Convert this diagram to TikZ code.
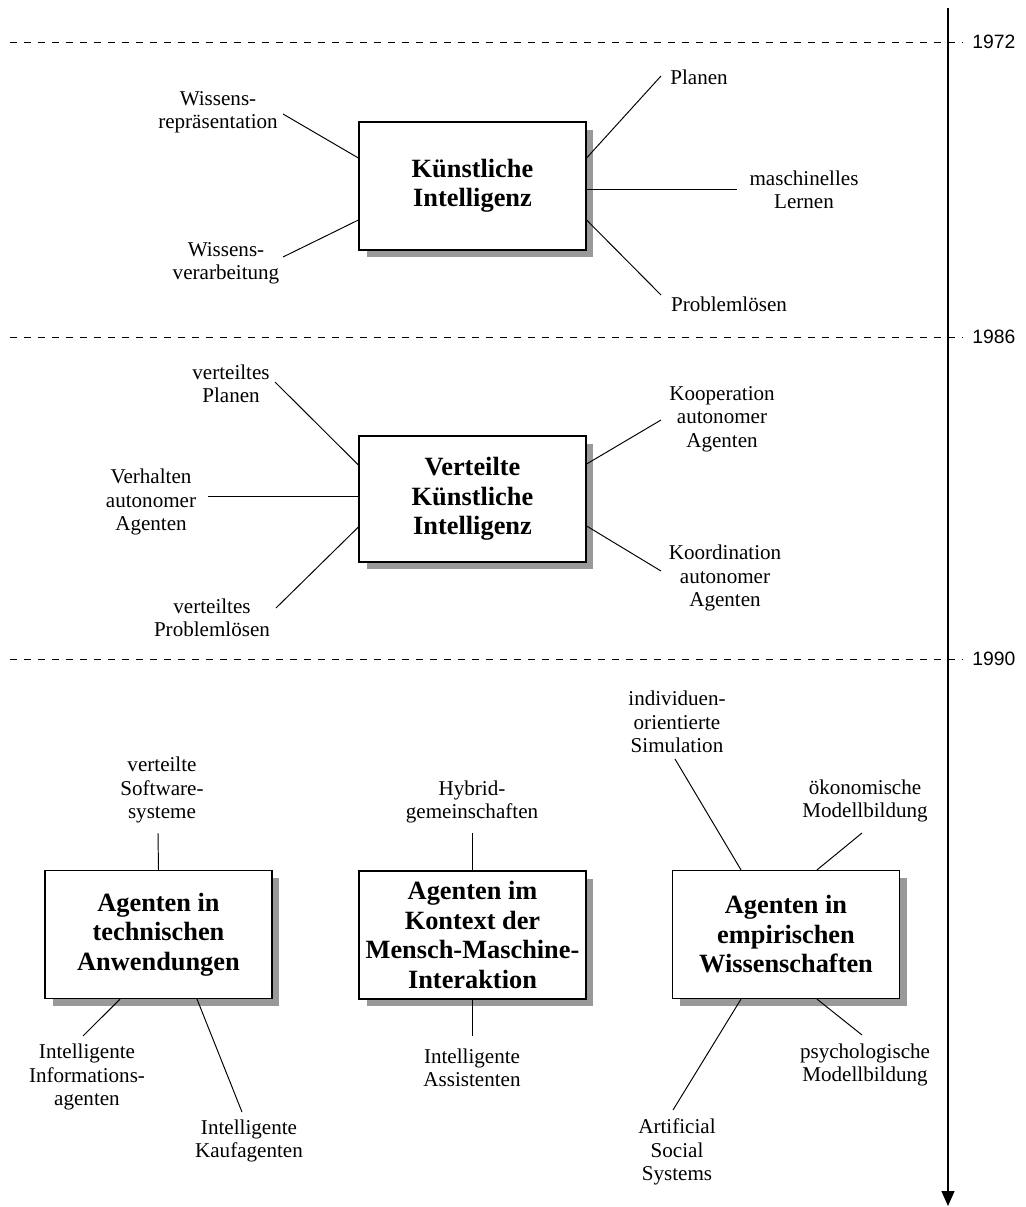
\documentclass[tikz,border=0pt]{standalone}
\usepackage{fontspec}
\setmainfont{Liberation Serif}
\newfontfamily\yearfont{Liberation Sans}
\usetikzlibrary{arrows.meta,shadows,calc}
\definecolor{shadowgray}{RGB}{153,153,153}
\begin{document}
\begin{tikzpicture}[x=0.02cm,y=-0.02cm,
  topic/.style={draw=black, line width=0.7pt, fill=white,
    minimum width=4.54cm, minimum height=2.56cm, inner sep=2pt, align=center,
    font=\fontsize{15}{16.8}\selectfont\bfseries,
    drop shadow={shadow xshift=0.15cm, shadow yshift=-0.15cm, fill=shadowgray, opacity=1}},
  lbl/.style={align=center, inner sep=0pt, font=\fontsize{12}{13.3}\selectfont},
  yearlbl/.style={anchor=west, inner sep=0pt, font=\yearfont\fontsize{11}{13}\selectfont},
  conn/.style={line width=0.55pt},
  era/.style={dash pattern=on 0.15cm off 0.13cm, line width=0.55pt},
  timeline/.style={line width=0.75pt, -{Triangle[width=0.26cm,length=0.3cm]}}]

\useasboundingbox (0,0) rectangle (1026,1207);

% time axis and era separators
\coordinate (tl-top) at (948,8);
\coordinate (tl-bot) at (948,1206);
\draw[era] (10,42) -- (962,42);
\draw[era] (10,337) -- (962,337);
\draw[era] (10,659) -- (962,659);
\draw[timeline] (tl-top) -- (tl-bot);
\node[yearlbl] (y1972) at (972,42) {1972};
\node[yearlbl] (y1986) at (972,337) {1986};
\node[yearlbl] (y1990) at (972,659) {1990};

% topic boxes
\node[topic] (ki) at (472.5,186) {Künstliche\\Intelligenz};
\node[topic, minimum height=2.52cm] (vki) at (472.5,499) {Verteilte\\Künstliche\\Intelligenz};
\node[topic] (tech) at (158.5,934.5) {Agenten in\\technischen\\Anwendungen};
\node[topic] (mmi) at (472.5,935) {Agenten im\\Kontext der\\Mensch-Maschine-\\Interaktion};
\node[topic] (emp) at (786,934.5) {Agenten in\\empirischen\\Wissenschaften};

% labels around "Kuenstliche Intelligenz"
\node[lbl] (wrep) at (218,112) {Wissens-\\repräsentation};
\node[lbl] (wver) at (226,263) {Wissens-\\verarbeitung};
\node[lbl] (plan) at (699,77) {Planen};
\node[lbl] (mlern) at (804,190) {maschinelles\\Lernen};
\node[lbl] (prob) at (729,304) {Problemlösen};
\coordinate (e-wrep) at (283,114);
\coordinate (e-wver) at (283,257);
\coordinate (e-plan) at (661,76);
\coordinate (e-mlern) at (737,189);
\coordinate (e-prob) at (661,295);
\draw[conn] ($(ki.west)+(0,-28)$) -- (e-wrep);
\draw[conn] ($(ki.west)+(0,34)$) -- (e-wver);
\draw[conn] ($(ki.east)+(0,-28)$) -- (e-plan);
\draw[conn] ($(ki.east)+(0,3)$) -- (e-mlern);
\draw[conn] ($(ki.east)+(0,34)$) -- (e-prob);

% labels around "Verteilte Kuenstliche Intelligenz"
\node[lbl] (vplan) at (231,384) {verteiltes\\Planen};
\node[lbl] (verh) at (151,502) {Verhalten\\autonomer\\Agenten};
\node[lbl] (vprob) at (212,618) {verteiltes\\Problemlösen};
\node[lbl] (koop) at (722,419) {Kooperation\\autonomer\\Agenten};
\node[lbl] (koord) at (725,578) {Koordination\\autonomer\\Agenten};
\coordinate (e-vplan) at (275,382);
\coordinate (e-verh) at (208,496);
\coordinate (e-vprob) at (276,608);
\coordinate (e-koop) at (661,420);
\coordinate (e-koord) at (661,571);
\draw[conn] ($(vki.west)+(0,-34)$) -- (e-vplan);
\draw[conn] ($(vki.west)+(0,-3)$) -- (e-verh);
\draw[conn] ($(vki.west)+(0,28)$) -- (e-vprob);
\draw[conn] ($(vki.east)+(0,-35)$) -- (e-koop);
\draw[conn] ($(vki.east)+(0,27)$) -- (e-koord);

% labels around "Agenten in technischen Anwendungen"
\node[lbl] (vsoft) at (162,790) {verteilte\\Software-\\systeme};
\node[lbl] (iinfo) at (87,1077) {Intelligente\\Informations-\\agenten};
\node[lbl] (ikauf) at (249,1141) {Intelligente\\Kaufagenten};
\coordinate (e-vsoft) at (158,833);
\coordinate (e-iinfo) at (83,1036);
\coordinate (e-ikauf) at (242,1112);
\draw[conn] (tech.north) -- (e-vsoft);
\draw[conn] ($(tech.south)+(-38.5,0)$) -- (e-iinfo);
\draw[conn] ($(tech.south)+(38.5,0)$) -- (e-ikauf);

% labels around "Agenten im Kontext der Mensch-Maschine-Interaktion"
\node[lbl] (hybrid) at (472,802) {Hybrid-\\gemeinschaften};
\node[lbl] (iass) at (472,1068) {Intelligente\\Assistenten};
\coordinate (e-hybrid) at (472.5,833);
\coordinate (e-iass) at (472.5,1036);
\draw[conn] (mmi.north) -- (e-hybrid);
\draw[conn] (mmi.south) -- (e-iass);

% labels around "Agenten in empirischen Wissenschaften"
\node[lbl] (indiv) at (677,722) {individuen-\\orientierte\\Simulation};
\node[lbl] (oekon) at (865,801) {ökonomische\\Modellbildung};
\node[lbl] (artif) at (677,1152) {Artificial\\Social\\Systems};
\node[lbl] (psych) at (865,1065) {psychologische\\Modellbildung};
\coordinate (e-indiv) at (675,759);
\coordinate (e-oekon) at (862,833);
\coordinate (e-artif) at (673,1110);
\coordinate (e-psych) at (862,1035);
\draw[conn] ($(emp.north)+(-45,0)$) -- (e-indiv);
\draw[conn] ($(emp.north)+(31,0)$) -- (e-oekon);
\draw[conn] ($(emp.south)+(-45,0)$) -- (e-artif);
\draw[conn] ($(emp.south)+(31,0)$) -- (e-psych);
\end{tikzpicture}
\end{document}
